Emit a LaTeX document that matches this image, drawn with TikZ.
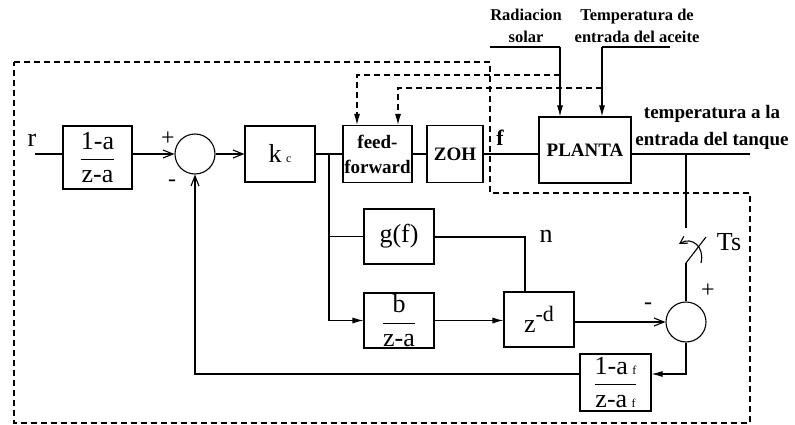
\documentclass[tikz,border=0pt]{standalone}
\usepackage{fontspec}
\setmainfont{Liberation Serif}
\usetikzlibrary{arrows.meta,positioning,calc}
\newcommand{\blkfrac}[2]{$\displaystyle\frac{\hbox{#1}}{\hbox{#2}}$}
\newcommand{\smallsub}[1]{{\fontsize{12}{12}\selectfont #1}}

\begin{document}
\begin{tikzpicture}[x=1pt,y=-1pt,line width=1.1pt,
  every node/.style={font=\fontsize{26}{28}\selectfont},
  blk/.style={draw, inner sep=0pt},
  sumc/.style={draw, circle, minimum size=40pt, inner sep=0pt},
  bld/.style={font=\fontsize{19}{25}\selectfont\bfseries, align=center},
  tops/.style={font=\fontsize{16.5}{22}\selectfont\bfseries, align=center},
  sgn/.style={font=\fontsize{24}{24}\selectfont},
  dsh/.style={dash pattern=on 6pt off 4pt},
  opn/.style={-{Straight Barb[length=10pt,width=8pt]}},
  fil/.style={-{Latex[length=11pt,width=6pt]}}]
  \useasboundingbox (0,0) rectangle (795,425);
  % blocks
  \node[blk, minimum width=69pt, minimum height=63pt] (pre) at (97.5,157.5) {\blkfrac{1-a}{z-a}};
  \node[sumc] (sum1) at (195,154) {};
  \node[blk, minimum width=70pt, minimum height=56pt] (kc) at (280,154) {k\,\smallsub{c}};
  \node[blk, bld, minimum width=69pt, minimum height=57pt] (ff) at (377.5,154) {feed-\\forward};
  \node[blk, bld, minimum width=56pt, minimum height=57pt] (zoh) at (455,154) {ZOH};
  \node[blk, bld, minimum width=92pt, minimum height=66pt] (planta) at (585,150) {PLANTA};
  \node[blk, minimum width=70pt, minimum height=55pt] (gf) at (399,236.5) {g(f)};
  \node[blk, minimum width=70pt, minimum height=55pt] (bza) at (399,320.5) {\blkfrac{b}{z-a}};
  \node[blk, minimum width=70pt, minimum height=55pt] (zd) at (539,319.5) {z\raisebox{11pt}{\fontsize{22}{22}\selectfont -d}};
  \node[sumc] (sum2) at (686,322) {};
  \node[blk, minimum width=71pt, minimum height=57pt] (filt) at (615.5,382.5) {\blkfrac{1-a\,\smallsub{f}}{z-a\,\smallsub{f}}};
  % labels
  \node (lr) at (32,140) {r};
  \node[sgn] (p1) at (168,139) {+};
  \node[sgn] (m1) at (172,183) {-};
  \node[sgn] (p2) at (708,291) {+};
  \node[sgn] (m2) at (648,306) {-};
  \node[font=\fontsize{22}{22}\selectfont\bfseries] (lf) at (500,138) {f};
  \node (ln) at (546,236) {n};
  \node (lts) at (729,242) {Ts};
  \node[tops] (lrad) at (526,26) {Radiacion\\solar};
  \node[tops] (ltmp) at (637,26) {Temperatura de\\entrada del aceite};
  \node[bld, font=\fontsize{19}{27}\selectfont\bfseries] (lout) at (712,127) {temperatura a la\\entrada del tanque};
  % main loop
  \coordinate (rin) at (35,154);
  \coordinate (br) at (329,154);
  \coordinate (tap) at (686,154);
  \coordinate (out) at (750,154);
  \draw (rin) -- (rin -| pre.west);
  \draw[opn] (pre.east |- sum1) -- (sum1.west);
  \draw[opn] (sum1) -- (kc);
  \draw (kc) -- (ff);
  \draw[fil] (br) |- (bza);
  \draw (br |- gf) -- (gf.west);
  \draw (ff) -- (zoh);
  \draw (zoh) -- (zoh -| planta.west);
  \draw (planta.east |- out) -- (out);
  % sampler
  \coordinate (swa) at (686,228);
  \coordinate (swb) at (686,263);
  \coordinate (swc) at (706,237);
  \coordinate (cva) at (701,263);
  \coordinate (cvb) at (679,244);
  \draw (tap) -- (swa);
  \draw (swb) -- (sum2);
  \draw (swb) -- (swc);
  \draw[-{Straight Barb[length=7pt,width=8pt]}] (cva) .. controls (705,247) and (692,236) .. (cvb);
  % delay path
  \coordinate (nj) at (525,237);
  \draw (gf.east |- nj) -- (nj) -- (nj |- zd.north);
  \draw[fil] (bza) -- (bza -| zd.west);
  \draw[opn] (zd.east |- sum2) -- (sum2.west);
  % feedback
  \coordinate (fb) at (686,374);
  \draw[fil] (sum2) -- (fb) -- (fb -| filt.east);
  \draw[opn] (fb -| filt.west) -| (sum1.south);
  % disturbances
  \coordinate (radin) at (490,47);
  \coordinate (rad) at (560,47);
  \coordinate (tmpin) at (670,47);
  \coordinate (tmp) at (602,47);
  \draw (radin) -- (rad);
  \draw[fil] (rad) -- (rad |- planta.north);
  \draw (tmpin) -- (tmp);
  \draw[fil] (tmp) -- (tmp |- planta.north);
  \coordinate (d1a) at (560,75);
  \coordinate (d1b) at (357,75);
  \coordinate (d2a) at (602,88);
  \coordinate (d2b) at (398,88);
  \draw[dsh, fil] (d1a) -- (d1b) -- (d1b |- ff.north);
  \draw[dsh, fil] (d2a) -- (d2b) -- (d2b |- ff.north);
  % controller boundary
  \draw[dsh] (14,62) -- (490,62) -- (490,193) -- (750,193) -- (750,423) -- (14,423) -- cycle;
\end{tikzpicture}
\end{document}
